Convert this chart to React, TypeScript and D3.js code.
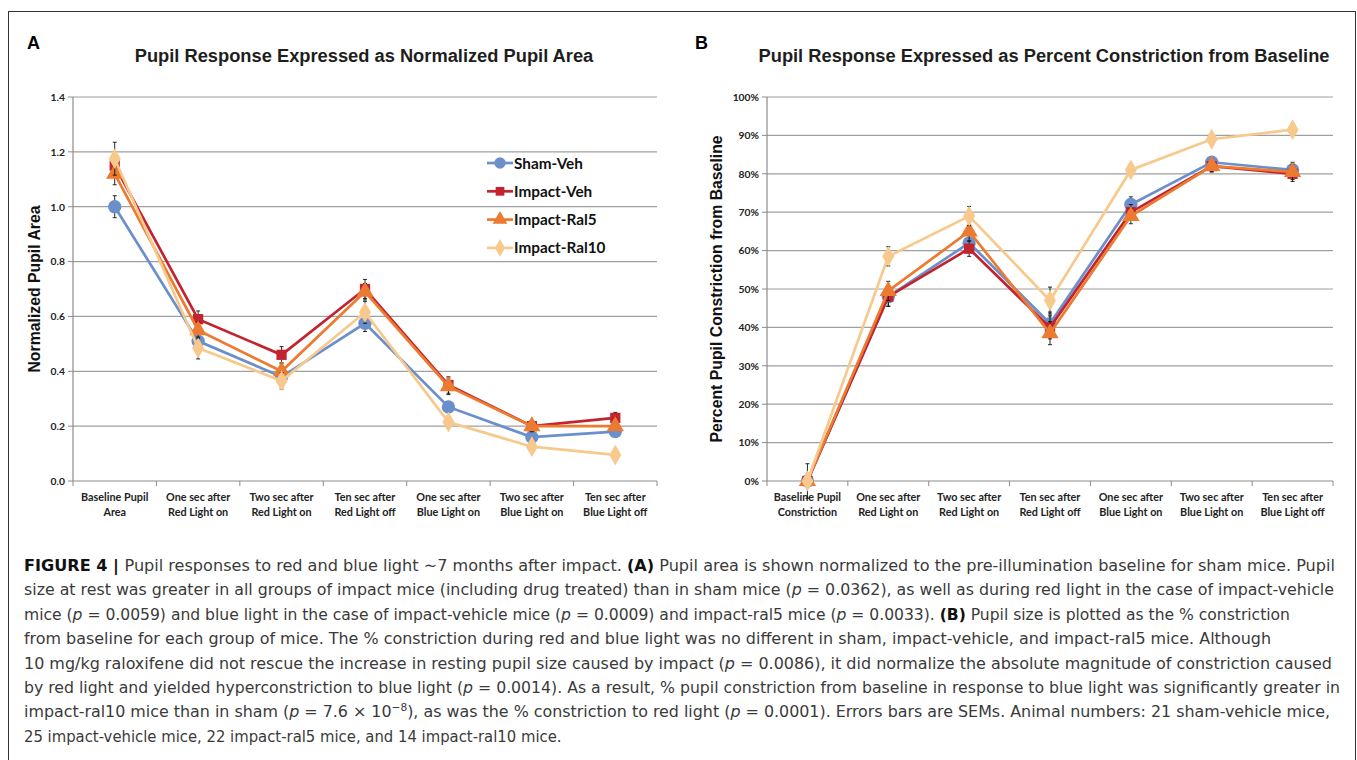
import React from 'react';
import * as d3 from 'd3';

// categories (two-line tick labels)
const catsA = [
  ['Baseline Pupil', 'Area'],
  ['One sec after', 'Red Light on'],
  ['Two sec after', 'Red Light on'],
  ['Ten sec after', 'Red Light off'],
  ['One sec after', 'Blue Light on'],
  ['Two sec after', 'Blue Light on'],
  ['Ten sec after', 'Blue Light off'],
];
const catsB = [['Baseline Pupil', 'Constriction'], ...catsA.slice(1)];

const seriesNames = ['Sham-Veh', 'Impact-Veh', 'Impact-Ral5', 'Impact-Ral10'];
const seriesColors = ['#6b8fcb', '#c3232e', '#ec7a30', '#f7c98c'];

// panel A: normalized pupil area
const shamA = [1.0, 0.51, 0.38, 0.575, 0.27, 0.16, 0.18];
const vehA = [1.15, 0.59, 0.46, 0.7, 0.35, 0.2, 0.23];
const ral5A = [1.12, 0.55, 0.4, 0.69, 0.345, 0.2, 0.2];
const ral10A = [1.175, 0.485, 0.365, 0.615, 0.215, 0.125, 0.095];
const shamSemA = [0.04, 0.03, 0.02, 0.03, 0.02, 0.01, 0.012];
const vehSemA = [0.03, 0.03, 0.03, 0.035, 0.03, 0.02, 0.02];
const ral5SemA = [0.04, 0.03, 0.03, 0.03, 0.03, 0.02, 0.015];
const ral10SemA = [0.06, 0.04, 0.03, 0.04, 0.02, 0.01, 0.01];
const ticksA = [0, 0.2, 0.4, 0.6, 0.8, 1.0, 1.2, 1.4];

// panel B: percent constriction from baseline
const shamB = [0, 48, 62, 41, 72, 83, 81];
const vehB = [0, 48, 60.5, 40, 70, 82, 80];
const ral5B = [0, 49.5, 65, 38.5, 69, 82, 80.5];
const ral10B = [0, 58.5, 69, 47, 81, 89, 91.5];
const shamSemB = [0, 2.5, 2.5, 3, 2, 1.5, 2];
const vehSemB = [0, 2.5, 2, 3, 2, 1.5, 2];
const ral5SemB = [0, 2.5, 2.5, 3, 2, 1.5, 2];
const ral10SemB = [4.5, 2.5, 2.5, 3.5, 1.5, 1, 1];
const ticksB = [0, 10, 20, 30, 40, 50, 60, 70, 80, 90, 100];

type Seg = { t: string; b?: boolean; i?: boolean; sup?: boolean };
const P: Seg = { t: 'p', i: true };
const caption: Seg[][] = [
  [{ t: 'FIGURE 4 | ', b: true }, { t: 'Pupil responses to red and blue light \u223C7 months after impact. ' }, { t: '(A)', b: true }, { t: ' Pupil area is shown normalized to the pre-illumination baseline for sham mice. Pupil' }],
  [{ t: 'size at rest was greater in all groups of impact mice (including drug treated) than in sham mice (' }, P, { t: ' = 0.0362), as well as during red light in the case of impact-vehicle' }],
  [{ t: 'mice (' }, P, { t: ' = 0.0059) and blue light in the case of impact-vehicle mice (' }, P, { t: ' = 0.0009) and impact-ral5 mice (' }, P, { t: ' = 0.0033). ' }, { t: '(B)', b: true }, { t: ' Pupil size is plotted as the % constriction' }],
  [{ t: 'from baseline for each group of mice. The % constriction during red and blue light was no different in sham, impact-vehicle, and impact-ral5 mice. Although' }],
  [{ t: '10 mg/kg raloxifene did not rescue the increase in resting pupil size caused by impact (' }, P, { t: ' = 0.0086), it did normalize the absolute magnitude of constriction caused' }],
  [{ t: 'by red light and yielded hyperconstriction to blue light (' }, P, { t: ' = 0.0014). As a result, % pupil constriction from baseline in response to blue light was significantly greater in' }],
  [{ t: 'impact-ral10 mice than in sham (' }, P, { t: ' = 7.6 \u00D7 10' }, { t: '\u22128', sup: true }, { t: '), as was the % constriction to red light (' }, P, { t: ' = 0.0001). Errors bars are SEMs. Animal numbers: 21 sham-vehicle mice,' }],
  [{ t: '25 impact-vehicle mice, 22 impact-ral5 mice, and 14 impact-ral10 mice.' }],
];
const captionEnds = [1335, 1334, 1290, 1271, 1332, 1340, 1330, 0];

const symbols = [d3.symbolCircle, d3.symbolSquare, d3.symbolTriangle, d3.symbolDiamond];
const symbolSizes = [140, 105, 130, 125];
const markerPath = (i: number) => d3.symbol(symbols[i], symbolSizes[i])() as string;

const chartFont = 'Lato, "Open Sans", sans-serif';
const titleFont = '"Liberation Sans", Arial, sans-serif';

type PanelProps = {
  x0: number; x1: number; y0: number; y1: number;
  cats: string[][];
  values: number[][];
  sems: number[][];
  ticks: number[];
  fmt: (v: number) => string;
  letter: string; letterX: number;
  title: string; titleX: number;
  yTitle: string; yTitleX: number;
  legend?: boolean;
};

const Panel = (p: PanelProps) => {
  const xBand = d3.scaleBand<number>().domain(d3.range(p.cats.length)).range([p.x0, p.x1]);
  const cx = (i: number) => (xBand(i) as number) + xBand.bandwidth() / 2;
  const y = d3.scaleLinear().domain([p.ticks[0], p.ticks[p.ticks.length - 1]]).range([p.y1, p.y0]);
  const line = d3.line<number>().x((_, i) => cx(i)).y((d) => y(d));
  const yMid = (p.y0 + p.y1) / 2;
  return (
    <g>
      <text x={p.letterX} y={49} fontFamily={titleFont} fontWeight="bold" fontSize={18} fill="#000">{p.letter}</text>
      <text x={p.titleX} y={62} textAnchor="middle" fontFamily={titleFont} fontWeight="bold" fontSize={18.3} fill="#1e1e1e">{p.title}</text>
      {/* grid */}
      {p.ticks.slice(1).map((t) => (
        <line key={t} x1={p.x0} x2={p.x1} y1={y(t)} y2={y(t)} stroke="#9f9f9f" strokeWidth={1.2} />
      ))}
      {/* y axis */}
      <line x1={p.x0} x2={p.x0} y1={p.y0} y2={p.y1} stroke="#8c8c8c" strokeWidth={1.2} />
      {p.ticks.map((t) => (
        <g key={'yt' + t}>
          <line x1={p.x0 - 5} x2={p.x0} y1={y(t)} y2={y(t)} stroke="#8c8c8c" />
          <text x={p.x0 - 8} y={y(t) + 3.8} textAnchor="end" fontFamily={chartFont} fontWeight="bold" fontSize={10.3} fill="#222">{p.fmt(t)}</text>
        </g>
      ))}
      {/* x axis */}
      <line x1={p.x0} x2={p.x1} y1={p.y1} y2={p.y1} stroke="#8c8c8c" strokeWidth={1.2} />
      {d3.range(p.cats.length + 1).map((i) => {
        const xx = i < p.cats.length ? (xBand(i) as number) : p.x1;
        return <line key={'xt' + i} x1={xx} x2={xx} y1={p.y1} y2={p.y1 + 5} stroke="#8c8c8c" />;
      })}
      {p.cats.map((c, i) => (
        <text key={'xl' + i} x={cx(i)} textAnchor="middle" fontFamily={chartFont} fontWeight="bold" fontSize={10.8} fill="#222">
          <tspan x={cx(i)} y={p.y1 + 20}>{c[0]}</tspan>
          <tspan x={cx(i)} y={p.y1 + 35}>{c[1]}</tspan>
        </text>
      ))}
      <text transform={`translate(${p.yTitleX},${yMid}) rotate(-90)`} textAnchor="middle" fontFamily={titleFont} fontWeight="bold" fontSize={15.8} fill="#111">{p.yTitle}</text>
      {/* series */}
      {p.values.map((vals, s) => (
        <g key={'s' + s}>
          <path d={line(vals) as string} fill="none" stroke={seriesColors[s]} strokeWidth={2.7} />
          {vals.map((v, i) => {
            const e = p.sems[s][i];
            if (!e) return null;
            return (
              <g key={'e' + i} stroke="#111" strokeWidth={0.9}>
                <line x1={cx(i)} x2={cx(i)} y1={y(v - e)} y2={y(v + e)} />
                <line x1={cx(i) - 2} x2={cx(i) + 2} y1={y(v + e)} y2={y(v + e)} />
                <line x1={cx(i) - 2} x2={cx(i) + 2} y1={y(v - e)} y2={y(v - e)} />
              </g>
            );
          })}
          {vals.map((v, i) => (
            <path key={'m' + i} d={markerPath(s)} transform={`translate(${cx(i)},${y(v)})`} fill={seriesColors[s]} />
          ))}
        </g>
      ))}
      {p.legend &&
        seriesNames.map((n, s) => {
          const ly = 163 + s * 28.3;
          return (
            <g key={'lg' + s}>
              <line x1={487} x2={513} y1={ly} y2={ly} stroke={seriesColors[s]} strokeWidth={2.7} />
              <path d={markerPath(s)} transform={`translate(500,${ly}) scale(0.85)`} fill={seriesColors[s]} />
              <text x={514} y={ly + 5.5} fontFamily={chartFont} fontWeight="bold" fontSize={15.3} fill="#111">{n}</text>
            </g>
          );
        })}
    </g>
  );
};

export default function App() {
  return (
    <svg width={1357} height={760} style={{ position: 'absolute', left: 0, top: 0, background: '#fff' }}>
      <rect x={0} y={0} width={1357} height={760} fill="#fff" />
      <rect x={8.5} y={11.5} width={1347} height={800} fill="none" stroke="#333" strokeWidth={1} />
      <Panel
        x0={73} x1={657} y0={97} y1={481}
        cats={catsA}
        values={[shamA, vehA, ral5A, ral10A]}
        sems={[shamSemA, vehSemA, ral5SemA, ral10SemA]}
        ticks={ticksA}
        fmt={(v) => v.toFixed(1)}
        letter="A" letterX={27}
        title="Pupil Response Expressed as Normalized Pupil Area" titleX={364}
        yTitle="Normalized Pupil Area" yTitleX={40}
        legend
      />
      <Panel
        x0={767} x1={1333} y0={97} y1={481}
        cats={catsB}
        values={[shamB, vehB, ral5B, ral10B]}
        sems={[shamSemB, vehSemB, ral5SemB, ral10SemB]}
        ticks={ticksB}
        fmt={(v) => v + '%'}
        letter="B" letterX={695}
        title="Pupil Response Expressed as Percent Constriction from Baseline" titleX={1044}
        yTitle="Percent Pupil Constriction from Baseline" yTitleX={722}
      />
      <g fontFamily='"Liberation Sans Narrow", "DejaVu Sans Condensed", "Liberation Sans", sans-serif' fontSize={16.5} fill="#3a3a3a">
        {caption.map((segs, li) => {
          const props: any = {};
          if (captionEnds[li]) {
            props.textLength = captionEnds[li] - 24;
            props.lengthAdjust = 'spacingAndGlyphs';
          }
          return (
            <text key={'c' + li} x={24} y={571 + li * 24.4} {...props}>
              {segs.map((sg, k) => (
                <tspan
                  key={k}
                  fontWeight={sg.b ? 'bold' : undefined}
                  fontStyle={sg.i ? 'italic' : undefined}
                  fill={sg.b ? '#111' : undefined}
                  fontSize={sg.sup ? 11 : undefined}
                  baselineShift={sg.sup ? 'super' : undefined}
                >
                  {sg.t}
                </tspan>
              ))}
            </text>
          );
        })}
      </g>
    </svg>
  );
}
